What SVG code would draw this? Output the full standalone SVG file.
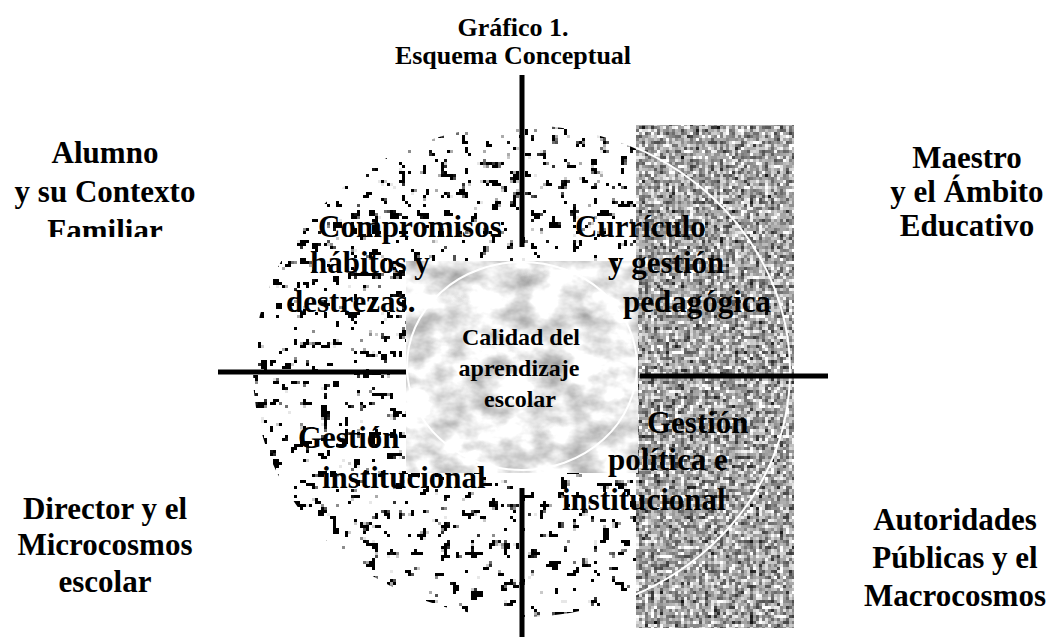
<svg xmlns="http://www.w3.org/2000/svg" width="1046" height="637" viewBox="0 0 1046 637">
<style>
text{font-family:"Liberation Serif","Times New Roman",serif;font-weight:bold;fill:#000;}
.big{font-size:31px;}
.ctr{text-anchor:middle;}
.title{font-size:26px;text-anchor:middle;}
.core{font-size:24px;text-anchor:middle;}
.axis{stroke:#000;stroke-width:5;fill:none;}
.ring{fill:none;stroke:#fff;stroke-width:2;}
</style>
<defs>
<filter id="fSpeck" filterUnits="userSpaceOnUse" x="0" y="0" width="1046" height="637" color-interpolation-filters="sRGB">
<feTurbulence type="fractalNoise" baseFrequency="0.1" numOctaves="3" seed="11" result="t"/>
<feColorMatrix in="t" type="matrix" values="0 0 0 0 0  0 0 0 0 0  0 0 0 0 0  1 0 0 0 0" result="a"/>
<feFlood x="1" y="1" width="1" height="1" flood-color="#000" result="f"/>
<feComposite in="f" in2="f" x="0" y="0" width="3" height="3" result="c"/>
<feTile in="c" result="grid"/>
<feComposite in="a" in2="grid" operator="in" result="s"/>
<feMorphology in="s" operator="dilate" radius="1" result="px"/>
<feComponentTransfer in="px" result="th"><feFuncA type="linear" slope="30" intercept="-19.2"/></feComponentTransfer>
<feComposite in="th" in2="SourceAlpha" operator="in"/>
</filter>
<filter id="fGray" filterUnits="userSpaceOnUse" x="0" y="0" width="1046" height="637" color-interpolation-filters="sRGB">
<feTurbulence type="fractalNoise" baseFrequency="0.2" numOctaves="3" seed="5" result="t"/>
<feColorMatrix in="t" type="matrix" values="1.7 0 0 0 -0.2  1.7 0 0 0 -0.2  1.7 0 0 0 -0.2  0 0 0 0 1" result="g"/>
<feFlood x="1" y="1" width="1" height="1" flood-color="#000" result="f"/>
<feComposite in="f" in2="f" x="0" y="0" width="3" height="3" result="c"/>
<feTile in="c" result="grid"/>
<feComposite in="g" in2="grid" operator="in" result="s"/>
<feMorphology in="s" operator="dilate" radius="1" result="px"/>
<feComposite in="px" in2="SourceAlpha" operator="in"/>
</filter>
<filter id="fMarble" x="0%" y="0%" width="100%" height="100%" color-interpolation-filters="sRGB">
<feTurbulence type="fractalNoise" baseFrequency="0.03 0.045" numOctaves="4" seed="3" result="t"/>
<feColorMatrix in="t" type="matrix" values="0.7 0 0 0 0.56  0.7 0 0 0 0.56  0.7 0 0 0 0.56  0 0 0 0 1"/>
</filter>
<clipPath id="clipFam"><rect x="0" y="0" width="260" height="237"/></clipPath>
</defs>
<rect width="1046" height="637" fill="#fff"/>

<g id="title">
<text class="title" x="513" y="36">Gráfico 1.</text>
<text class="title" x="513" y="64">Esquema Conceptual</text>
</g>

<g id="outer-circle">
<ellipse cx="521" cy="371" rx="269" ry="247" fill="#000" filter="url(#fSpeck)"/>
</g>
<g id="macro-band">
<rect x="636" y="125" width="158" height="503" fill="#999" filter="url(#fGray)"/>
</g>
<ellipse class="ring" cx="521" cy="371" rx="269" ry="247"/>

<g id="node-gestion-inst">
<text class="big" x="298" y="448">Gestión</text>
</g>

<g id="core">
<rect x="406" y="261" width="232" height="212" fill="#ddd" filter="url(#fMarble)"/>
<ellipse class="ring" cx="522" cy="366" rx="115" ry="104" stroke-width="1.8"/>
<text class="core" x="521" y="345">Calidad del</text>
<text class="core" x="519" y="376">aprendizaje</text>
<text class="core" x="520" y="407">escolar</text>
</g>

<g id="node-compromisos">
<text class="big" x="318" y="237">Compromisos</text>
<text class="big" x="310" y="273">hábitos y</text>
<text class="big" x="286" y="312">destrezas.</text>
</g>
<g id="node-curriculo">
<text class="big" x="575" y="237">Currículo</text>
<text class="big" x="608" y="273">y gestión</text>
<text class="big" x="623" y="312">pedagógica</text>
</g>
<g id="node-gestion-inst-2">
<text class="big" x="322" y="488">institucional</text>
</g>
<g id="node-gestion-pol">
<text class="big" x="647" y="433">Gestión</text>
<text class="big" x="608" y="470">política e</text>
<text class="big" x="562" y="510">institucional</text>
</g>

<g id="node-alumno">
<text class="big ctr" x="105" y="163">Alumno</text>
<text class="big ctr" x="105" y="202">y su Contexto</text>
<text class="big ctr" x="105" y="241" clip-path="url(#clipFam)">Familiar</text>
</g>
<g id="node-maestro">
<text class="big ctr" x="967" y="168">Maestro</text>
<text class="big ctr" x="967" y="202">y el Ámbito</text>
<text class="big ctr" x="967" y="236">Educativo</text>
</g>
<g id="node-director">
<text class="big ctr" x="105" y="519">Director y el</text>
<text class="big ctr" x="105" y="555">Microcosmos</text>
<text class="big ctr" x="105" y="592">escolar</text>
</g>
<g id="node-autoridades">
<text class="big ctr" x="955" y="530">Autoridades</text>
<text class="big ctr" x="955" y="568">Públicas y el</text>
<text class="big ctr" x="955" y="606">Macrocosmos</text>
</g>

<g id="connectors">
<line class="axis" x1="522" y1="75" x2="522" y2="247"/>
<line class="axis" x1="522" y1="488" x2="522" y2="637"/>
<line class="axis" x1="218" y1="372" x2="406" y2="372"/>
<line class="axis" x1="640" y1="376" x2="828" y2="376"/>
</g>
</svg>
